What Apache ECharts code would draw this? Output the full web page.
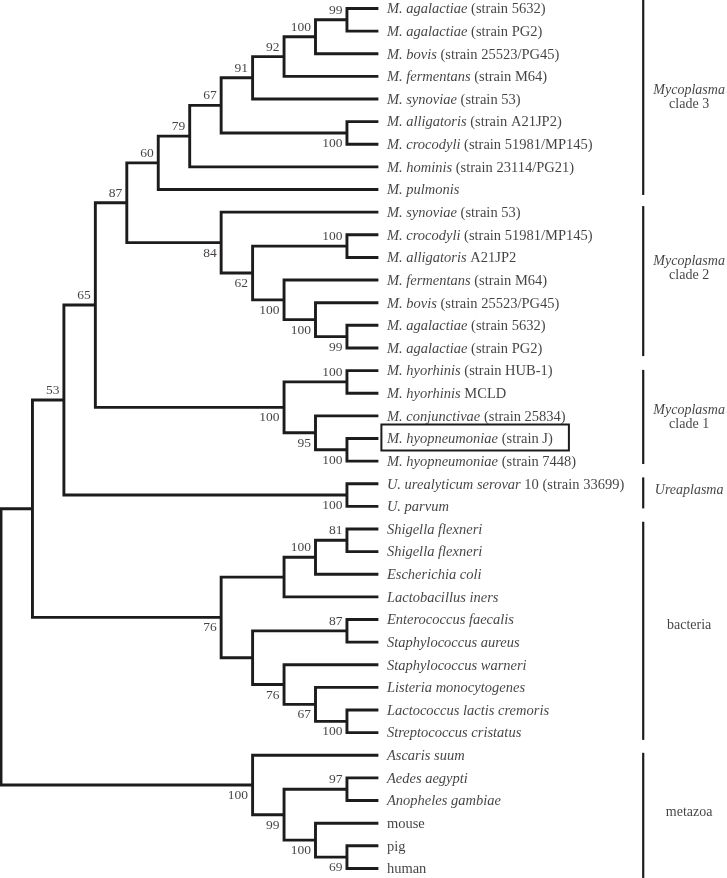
<!DOCTYPE html>
<html><head><meta charset="utf-8">
<script src="https://cdn.jsdelivr.net/npm/echarts@6/dist/echarts.min.js"></script>
<style>html,body{margin:0;padding:0;background:#fff}#c{width:727px;height:878px}</style>
</head><body><div id="c"></div>
<script>
// ---------- data ----------
const leafItalic = [
  'M. agalactiae','M. agalactiae','M. bovis','M. fermentans','M. synoviae','M. alligatoris',
  'M. crocodyli','M. hominis','M. pulmonis','M. synoviae','M. crocodyli','M. alligatoris',
  'M. fermentans','M. bovis','M. agalactiae','M. agalactiae','M. hyorhinis','M. hyorhinis',
  'M. conjunctivae','M. hyopneumoniae','M. hyopneumoniae','U. urealyticum serovar','U. parvum',
  'Shigella flexneri','Shigella flexneri','Escherichia coli','Lactobacillus iners',
  'Enterococcus faecalis','Staphylococcus aureus','Staphylococcus warneri','Listeria monocytogenes',
  'Lactococcus lactis cremoris','Streptococcus cristatus','Ascaris suum','Aedes aegypti',
  'Anopheles gambiae','','',''
];
const leafPlain = [
  ' (strain 5632)',' (strain PG2)',' (strain 25523/PG45)',' (strain M64)',' (strain 53)',' (strain A21JP2)',
  ' (strain 51981/MP145)',' (strain 23114/PG21)','',' (strain 53)',' (strain 51981/MP145)',' A21JP2',
  ' (strain M64)',' (strain 25523/PG45)',' (strain 5632)',' (strain PG2)',' (strain HUB-1)',' MCLD',
  ' (strain 25834)',' (strain J)',' (strain 7448)',' 10 (strain 33699)','',
  '','','','',
  '','','','',
  '','','','',
  '','mouse','pig','human'
];
// internal nodes: [id, first child, second child, depth level, bootstrap support]
const internalNodes = [
  ['a1', 0, 1, 11, '99'],
  ['a2', 'a1', 2, 10, '100'],
  ['a3', 'a2', 3, 9, '92'],
  ['a4', 'a3', 4, 8, '91'],
  ['a5', 5, 6, 11, '100'],
  ['a6', 'a4', 'a5', 7, '67'],
  ['a7', 'a6', 7, 6, '79'],
  ['a8', 'a7', 8, 5, '60'],
  ['b1', 10, 11, 11, '100'],
  ['b2', 14, 15, 11, '99'],
  ['b3', 13, 'b2', 10, '100'],
  ['b4', 12, 'b3', 9, '100'],
  ['b5', 'b1', 'b4', 8, '62'],
  ['b6', 9, 'b5', 7, '84'],
  ['a9', 'a8', 'b6', 4, '87'],
  ['c1', 16, 17, 11, '100'],
  ['c2', 19, 20, 11, '100'],
  ['c3', 18, 'c2', 10, '95'],
  ['c4', 'c1', 'c3', 9, '100'],
  ['m1', 'a9', 'c4', 3, '65'],
  ['u1', 21, 22, 11, '100'],
  ['m2', 'm1', 'u1', 2, '53'],
  ['d1', 23, 24, 11, '81'],
  ['d2', 'd1', 25, 10, '100'],
  ['d3', 'd2', 26, 9, ''],
  ['d4', 27, 28, 11, '87'],
  ['d5', 31, 32, 11, '100'],
  ['d6', 30, 'd5', 10, '67'],
  ['d7', 29, 'd6', 9, '76'],
  ['d8', 'd4', 'd7', 8, ''],
  ['d9', 'd3', 'd8', 7, '76'],
  ['m3', 'm2', 'd9', 1, ''],
  ['e1', 34, 35, 11, '97'],
  ['e2', 37, 38, 11, '69'],
  ['e3', 36, 'e2', 10, '100'],
  ['e4', 'e1', 'e3', 9, '99'],
  ['e5', 33, 'e4', 8, '100'],
  ['root', 'm3', 'e5', 0, '']
];
const groupLabels = ['{i|Mycoplasma}\nclade 3','{i|Mycoplasma}\nclade 2','{i|Mycoplasma}\nclade 1','{i|Ureaplasma}','bacteria','metazoa'];
const groupSpanTop = [-0.38, 8.73, 15.97, 20.72, 22.68, 32.89];
const groupSpanBottom = [8.24, 15.36, 20.13, 22.09, 32.32, 38.42];
const groupLabelAt = [3.91, 11.47, 18.05, 21.28, 27.24, 35.54];
const highlightedLeaf = 19;

// ---------- layout constants / styles ----------
const LEAF_LEVEL = 12;
const BRACKET_X = 20.42;
const GROUP_LABEL_X = 21.88;
const FONT = "'Liberation Serif','Times New Roman',serif";
const INK = '#1e1b1c';
const TEXT = '#141213';

// ---------- tree computation ----------
const pos = {};
leafItalic.forEach((_, i) => { pos[i] = { level: LEAF_LEVEL, y: i }; });
const side = {};
internalNodes.forEach(([id, a, b, lv]) => {
  pos[id] = { level: lv, y: (pos[a].y + pos[b].y) / 2 };
  side[a] = 'first'; side[b] = 'second';
});
const branchData = internalNodes.map(([id, a, b, lv]) => [lv, pos[a].y, pos[b].y, pos[a].level, pos[b].level]);
const supportData = internalNodes.filter(n => n[4]).map(n => ({
  value: [n[3], pos[n[0]].y],
  label: { formatter: n[4], offset: [0, side[n[0]] === 'first' ? -9.5 : 10.5] }
}));
const leafData = leafItalic.map((_, i) => [LEAF_LEVEL, i]);
const groupLineData = groupSpanTop.map((t, i) => [BRACKET_X, t, groupSpanBottom[i]]);
const groupLabelData = groupLabels.map((s, i) => ({ value: [GROUP_LABEL_X, groupLabelAt[i]], label: { formatter: s } }));

const chart = echarts.init(document.getElementById('c'), null, { renderer: 'canvas' });
chart.setOption({
  animation: false,
  backgroundColor: '#fff',
  grid: { left: 1, top: 8.5, width: 31.45 * 23, height: 22.63 * 38 },
  xAxis: { type: 'value', min: 0, max: 23, show: false },
  yAxis: { type: 'value', min: 0, max: 38, inverse: true, show: false },
  series: [
    {
      type: 'custom', silent: true, data: branchData,
      encode: { x: [0, 3, 4], y: [1, 2] },
      renderItem(params, api) {
        const lv = api.value(0), ya = api.value(1), yb = api.value(2), la = api.value(3), lb = api.value(4);
        return {
          type: 'polyline',
          shape: { points: [api.coord([la, ya]), api.coord([lv, ya]), api.coord([lv, yb]), api.coord([lb, yb])] },
          style: { stroke: INK, lineWidth: 2.9, fill: null, lineJoin: 'miter' }
        };
      }
    },
    {
      type: 'custom', silent: true, data: groupLineData,
      encode: { x: 0, y: [1, 2] },
      renderItem(params, api) {
        const p1 = api.coord([api.value(0), api.value(1)]);
        const p2 = api.coord([api.value(0), api.value(2)]);
        return { type: 'line', shape: { x1: p1[0], y1: p1[1], x2: p2[0], y2: p2[1] }, style: { stroke: INK, lineWidth: 2.2 } };
      }
    },
    {
      type: 'custom', silent: true, data: [[LEAF_LEVEL, highlightedLeaf]],
      encode: { x: 0, y: 1 },
      renderItem(params, api) {
        const p = api.coord([api.value(0), api.value(1)]);
        return { type: 'rect', shape: { x: p[0] + 3, y: p[1] - 14, width: 187.5, height: 26 }, style: { stroke: INK, lineWidth: 2, fill: null } };
      }
    },
    {
      type: 'scatter', silent: true, symbolSize: 1, itemStyle: { color: 'rgba(0,0,0,0)' },
      data: leafData,
      label: {
        show: true, position: 'right', distance: 8, offset: [0, 1],
        fontFamily: FONT, fontSize: 14.5, color: TEXT,
        formatter: p => {
          const i = p.value[1];
          return (leafItalic[i] ? '{i|' + leafItalic[i] + '}' : '') + leafPlain[i];
        },
        rich: { i: { fontFamily: FONT, fontSize: 14.5, fontStyle: 'italic', color: TEXT } }
      }
    },
    {
      type: 'scatter', silent: true, symbolSize: 1, itemStyle: { color: 'rgba(0,0,0,0)' },
      data: supportData,
      label: { show: true, position: 'left', distance: 4, fontFamily: FONT, fontSize: 13.5, color: TEXT }
    },
    {
      type: 'scatter', silent: true, symbolSize: 1, itemStyle: { color: 'rgba(0,0,0,0)' },
      data: groupLabelData,
      label: {
        show: true, position: 'inside', align: 'center', verticalAlign: 'middle',
        fontFamily: FONT, fontSize: 14, lineHeight: 14, color: TEXT,
        rich: { i: { fontFamily: FONT, fontSize: 14, lineHeight: 14, fontStyle: 'italic', color: TEXT } }
      }
    }
  ]
});
</script>
</body></html>
